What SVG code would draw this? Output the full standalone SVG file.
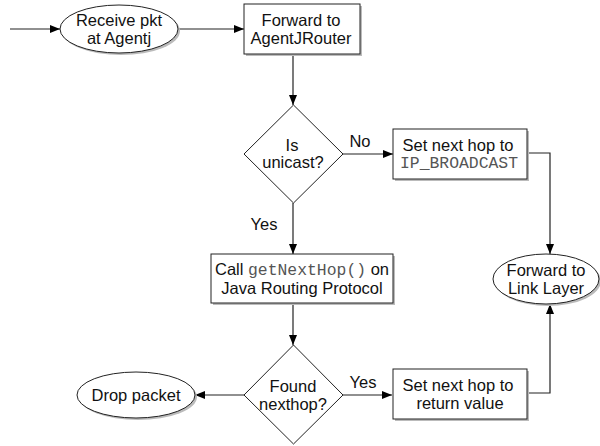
<svg xmlns="http://www.w3.org/2000/svg" width="600" height="446" viewBox="0 0 600 446">
<defs>
<marker id="ah" markerWidth="10" markerHeight="8" refX="10" refY="4" orient="auto" markerUnits="userSpaceOnUse">
<path d="M0,0 L10,4 L0,8 Z" fill="#000"/>
</marker>
</defs>
<style>
.sh{fill:#bbb;stroke:none}
.n{fill:#fff;stroke:#222;stroke-width:1}
.t{font-family:"Liberation Sans",Arial,sans-serif;font-size:16.5px;fill:#111;text-anchor:middle}
.m{font-family:"Liberation Mono","Courier New",monospace;font-size:16.4px;fill:#555}
.c{fill:none;stroke:#222;stroke-width:1.2}
</style>
<rect width="600" height="446" fill="#fff"/>
<g id="connectors">
<path class="c" d="M10,29 H60" marker-end="url(#ah)"/>
<path class="c" d="M178,29 H244" marker-end="url(#ah)"/>
<path class="c" d="M293,54 V105" marker-end="url(#ah)"/>
<path class="c" d="M343,154 H393" marker-end="url(#ah)"/>
<path class="c" d="M293,203 V254" marker-end="url(#ah)"/>
<path class="c" d="M527,153 H550 V254" marker-end="url(#ah)"/>
<path class="c" d="M293,303 V345" marker-end="url(#ah)"/>
<path class="c" d="M343,395 H392" marker-end="url(#ah)"/>
<path class="c" d="M527,393 H550 V304" marker-end="url(#ah)"/>
<path class="c" d="M244,395 H195" marker-end="url(#ah)"/>
<text class="t" x="360" y="147">No</text>
<text class="t" x="264" y="230">Yes</text>
<text class="t" x="363" y="388">Yes</text>
</g>
<g id="receive">
<ellipse class="sh" cx="121" cy="31" rx="59" ry="24"/>
<ellipse class="n" cx="119" cy="29" rx="59" ry="24"/>
<text class="t" x="119" y="26">Receive pkt</text>
<text class="t" x="119" y="44">at Agentj</text>
</g>
<g id="forward-router">
<rect class="sh" x="246" y="6" width="116" height="50"/>
<rect class="n" x="244" y="4" width="116" height="50"/>
<text class="t" x="301" y="26">Forward to</text>
<text class="t" x="301" y="44">AgentJRouter</text>
</g>
<g id="is-unicast">
<path class="n" d="M293.5,105 L343,154 L293.5,203 L244,154 Z"/>
<text class="t" x="292" y="151">Is</text>
<text class="t" x="293" y="168">unicast?</text>
</g>
<g id="set-broadcast">
<rect class="sh" x="395" y="131" width="134" height="50"/>
<rect class="n" x="393" y="129" width="134" height="50"/>
<text class="t" x="458" y="151">Set next hop to</text>
<text class="t m" x="459" y="168">IP_BROADCAST</text>
</g>
<g id="call-getnexthop">
<rect class="sh" x="213" y="256" width="182" height="49"/>
<rect class="n" x="211" y="254" width="182" height="49"/>
<text class="t" x="302" y="275">Call <tspan class="m">getNextHop()</tspan> on</text>
<text class="t" x="302" y="294">Java Routing Protocol</text>
</g>
<g id="forward-link">
<ellipse class="sh" cx="548" cy="281" rx="53" ry="25"/>
<ellipse class="n" cx="546" cy="279" rx="53" ry="25"/>
<text class="t" x="546" y="276">Forward to</text>
<text class="t" x="546" y="294">Link Layer</text>
</g>
<g id="found-nexthop">
<path class="n" d="M293.5,345 L343,395 L293.5,444 L244,395 Z"/>
<text class="t" x="293" y="392">Found</text>
<text class="t" x="293" y="410">nexthop?</text>
</g>
<g id="set-return">
<rect class="sh" x="395" y="371" width="134" height="50"/>
<rect class="n" x="393" y="369" width="134" height="50"/>
<text class="t" x="458" y="391">Set next hop to</text>
<text class="t" x="460" y="409">return value</text>
</g>
<g id="drop">
<ellipse class="sh" cx="138" cy="397" rx="59" ry="23"/>
<ellipse class="n" cx="136" cy="395" rx="59" ry="23"/>
<text class="t" x="136" y="401">Drop packet</text>
</g>
</svg>
